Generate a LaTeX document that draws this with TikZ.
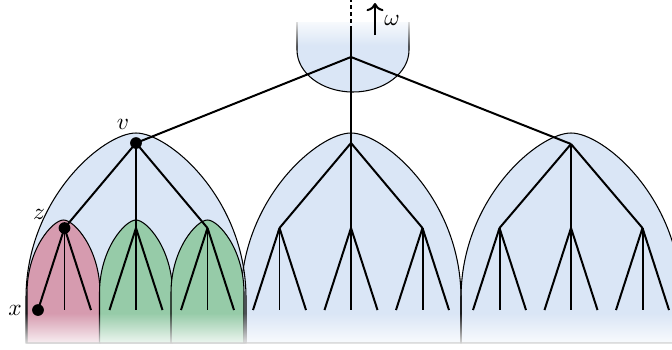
\documentclass[tikz,border=0pt]{standalone}
\usetikzlibrary{arrows.meta,fadings}
\definecolor{softblue}{HTML}{DAE6F6}
\definecolor{rose}{HTML}{D69BAF}
\definecolor{softgreen}{HTML}{96CBA8}
% style, centre x, apex y, half width, height of the round part
\newcommand{\hill}[5]{%
  \path[#1] (#2-#4,343) -- (#2-#4,#3+#5)
    .. controls (#2-#4,#3+0.4*#5) and (#2-0.3*#4,#3) .. (#2,#3)
    .. controls (#2+0.3*#4,#3) and (#2+#4,#3+0.4*#5) .. (#2+#4,#3+#5)
    -- (#2+#4,343) -- cycle;}
\begin{document}
\begin{tikzpicture}[x=0.015cm,y=-0.015cm,
  >=To,
  edge/.style={line width=0.85pt},
  rim/.style={draw=black,line width=0.45pt},
  dot/.style={circle,fill=black,inner sep=0pt,minimum size=5pt}
]
\useasboundingbox (0,0) rectangle (672,349);
\clip (0,0) rectangle (672,349);
% cup round the root
\path[rim,fill=softblue] (297,22) -- (297,50) .. controls (297,73) and (322,92) .. (353,92)
  .. controls (384,92) and (409,73) .. (409,50) -- (409,22);
\fill[white,path fading=south] (290,16) rectangle (416,46);
% subtrees
\foreach \cx/\ty in {136/133,351/133,571/133} {\hill{fill=softblue}{\cx}{\ty}{110}{165}}
\foreach \cx/\ty in {136/133,351/133,571/133} {\hill{rim}{\cx}{\ty}{110}{165}}
\hill{rim,fill=rose}{63.5}{220}{36.5}{73}
\hill{rim,fill=softgreen}{136}{220}{36.5}{73}
\hill{rim,fill=softgreen}{207.5}{220}{36.5}{73}
% tree
\coordinate (up) at (351,0);
\coordinate (r0) at (351,30);
\coordinate (r) at (351,57);
\draw[edge] (r0) -- (r);
\draw[edge,dash pattern=on 1.7pt off 1.3pt] (r0) -- (up);
\foreach \i/\cx/\cy in {1/136/143,2/351/143,3/571/144} {
  \coordinate (n\i) at (\cx,\cy);
  \draw[edge] (r) -- (n\i);
  \foreach \j in {1,2,3} {
    \coordinate (n\i\j) at (\cx+71.5*\j-143,228);
    \draw[edge] (n\i) -- (n\i\j);
    \foreach \k in {1,2,3} {
      \coordinate (n\i\j\k) at (\cx+71.5*\j-143+26.5*\k-53,310);
      \draw[edge] (n\i\j) -- (n\i\j\k);
    }
  }
}
% fade at the bottom
\fill[white,path fading=north] (0,313) rectangle (672,349);
% marked vertices
\node[dot] (v) at (n1) {};
\node[dot] (z) at (n11) {};
\node[dot] (x) at (n111) {};
\node (lv) at (123,124) {$v$};
\node (lz) at (39,214) {$z$};
\node (lx) at (15,310) {$x$};
% direction of omega
\coordinate (wbot) at (375,35);
\coordinate (wtop) at (375,3);
\draw[edge,->] (wbot) -- (wtop);
\node (om) at (392,20) {$\omega$};
\end{tikzpicture}
\end{document}
